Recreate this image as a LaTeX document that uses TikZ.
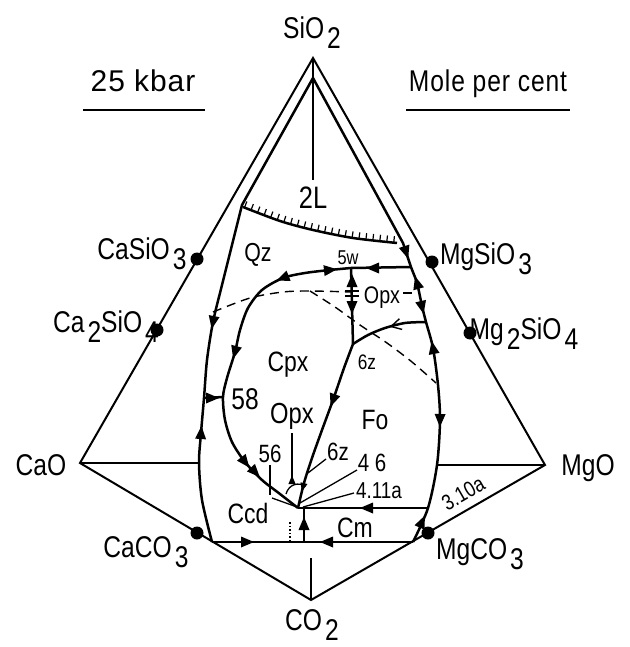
\documentclass[tikz,border=0pt]{standalone}
\usepackage{fontspec}
\newfontfamily\lf[FakeStretch=0.82]{Liberation Sans}
\newfontfamily\lfw{Liberation Sans}
\usetikzlibrary{decorations.markings}
\newcommand\sbs[1]{\kern0.1em\raisebox{-0.33em}{#1}}
\tikzset{
  lbl/.style={font=\lf\fontsize{#1}{#1}\selectfont, inner sep=0pt, text depth=0pt,
    /utils/exec={\pgfmathsetlengthmacro\capht{0.716*#1}}, text height=\capht},
  edgeln/.style={line width=2pt},
  bnd/.style={line width=2.5pt, line join=round},
  lead/.style={line width=1.3pt},
  dsh/.style={line width=1.4pt, dash pattern=on 9pt off 6pt},
  ah/.pic={\fill (7,0) -- (-6,5.5) -- (-6,-5.5) -- cycle;},
  sah/.pic={\fill (4.5,0) -- (-4,3.6) -- (-4,-3.6) -- cycle;},
  oah/.pic={\draw[line width=1.4pt] (-8,5.5) -- (2,0) -- (-8,-5.5);},
  cdot/.style={fill, circle, minimum size=13pt, inner sep=0pt},
}
\begin{document}
\begin{tikzpicture}[x=1pt,y=-1pt]
\useasboundingbox (0,0) rectangle (629,647);
% key points
\coordinate (Si) at (313,58);
\coordinate (CaO) at (80,463);
\coordinate (MgO) at (545,465);
\coordinate (CO) at (311,600);
\coordinate (In) at (313,78);
\coordinate (A) at (212,542);
\coordinate (B) at (413,542);
\coordinate (J5) at (351,268);
\coordinate (J6) at (353,344);
\coordinate (P) at (298,508);
\coordinate (R1) at (411,267);
\coordinate (R2) at (426,322);
\coordinate (R3) at (428,508);
\coordinate (L58) at (204,398);
\coordinate (C58) at (223,397);
\coordinate (Q) at (304,542);
\coordinate (HL) at (199,463);
\coordinate (HR) at (437,465);
\coordinate (Vt) at (313,180);
\coordinate (Vb) at (311,558);
% outer frame
\draw[edgeln, line join=miter] (CaO) -- (Si) -- (MgO) -- (CO) -- cycle;
\draw[edgeln] (Si) -- (Vt);
\draw[edgeln] (Vb) -- (CO);
\draw[edgeln] (CaO) -- (HL);
\draw[edgeln] (MgO) -- (HR);
% compound dots
\node[cdot] (dCaSiO3) at (197,259) {};
\node[cdot] (dCa2SiO4) at (157,330) {};
\node[cdot] (dMgSiO3) at (432,262) {};
\node[cdot] (dMg2SiO4) at (470,333) {};
\node[cdot] (dCaCO3) at (197,533) {};
\node[cdot] (dMgCO3) at (428,533) {};
% inner boundaries
\draw[bnd] (In) -- plot[smooth] coordinates {(242,205) (232,245) (222,285) (213,322) (207,360) (L58) (201,433) (HL) (202,500) (A)};
\draw[bnd] (In) -- plot[smooth] coordinates {(403,243) (R1) (417,283) (422,306) (R2) (433,348) (438,385) (440,420) (HR) (R3) (B)};
% two-liquid boundary with ticks
\draw[bnd, postaction={decorate}, decoration={markings, mark=between positions 0.01 and 1 step 7pt with {\draw[line width=1.2pt] (0,0) -- (0,-6.5);}}]
  plot[smooth] coordinates {(243,207) (280,221) (313,230) (353,238) (397,243)};
% field boundaries
\draw[bnd] (J5) -- (R1);
\draw[bnd] plot[smooth] coordinates {(J5) (330,270) (305,273) (283,278) (262,290) (248,308) (240,330) (235,352) (227,378) (C58) (225,420) (232,442) (245,462) (262,480) (280,494) (P)};
\draw[bnd] (L58) -- (C58);
\draw[bnd] (J5) -- (J6);
\draw[bnd] plot[smooth] coordinates {(R2) (405,323) (385,328) (368,335) (J6)};
\draw[bnd] plot[smooth] coordinates {(J6) (344,368) (333,400) (322,430) (312,458) (304,483) (P)};
\draw[bnd] (R3) -- (P);
\draw[bnd] (A) -- (B);
\draw[bnd] (Q) -- (304,508);
% dashed lines
\draw[dsh] plot[smooth] coordinates {(213,312) (250,298) (283,292) (310,291) (352,292)};
\draw[dsh] (403,293) -- (419,293);
\draw[dsh] plot[smooth] coordinates {(310,291) (335,307) (360,325) (387,343) (412,362) (436,383)};
% thermal maximum bars
\draw[lead] (345,291) -- (359,291) (345,296) -- (359,296);
% small details near P
\draw[lead] (286,494) .. controls (289,484) and (298,482) .. (306,486);
\draw[line width=1.6pt, dotted] (290,522) -- (290,541);
% leaders
\draw[lead] (292,433) -- (292,478);
\draw[lead] (270,465) -- (270,495);
\draw[lead] (272,498) -- (297,507);
\draw[lead] (326,459) -- (308,473);
\draw[lead] (357,470) -- (300,503);
\draw[lead] (354,493) -- (303,507);
% arrowheads
\pic[rotate=-101] at (213,322) {ah};
\pic[rotate=86] at (201,433) {ah};
\pic[rotate=0] at (212,398) {ah};
\pic[rotate=6] at (330,270) {ah};
\pic[rotate=202] at (283,278) {ah};
\pic[rotate=255] at (235,352) {ah};
\pic[rotate=-52] at (245,462) {ah};
\pic[rotate=-47] at (255,472) {ah};
\pic[rotate=90] at (352,281) {ah};
\pic[rotate=-90] at (352,307) {ah};
\pic[rotate=194] at (393,326) {oah};
\pic[rotate=250] at (333,400) {ah};
\pic[rotate=256] at (303,487) {sah};
\pic[rotate=90] at (292,480) {sah};
\pic[rotate=180] at (367,508) {ah};
\pic[rotate=180] at (373,268) {ah};
\pic[rotate=-72] at (406,252) {ah};
\pic[rotate=106] at (417,283) {ah};
\pic[rotate=-77] at (422,307) {ah};
\pic[rotate=101] at (433,348) {ah};
\pic[rotate=-91] at (440,420) {ah};
\pic[rotate=66] at (422,522) {ah};
\pic[rotate=0] at (247,542) {ah};
\pic[rotate=180] at (327,542) {ah};
\pic[rotate=90] at (304,524) {ah};
% labels
\node[lbl=30] (nSi) at (312,28) {SiO\sbs{2}};
\node[lbl=30] (nCO2) at (312,620) {CO\sbs{2}};
\node[lbl=30] (nCaO) at (41,465) {CaO};
\node[lbl=30] (nMgO) at (588,465) {MgO};
\node[lbl=30] (nCaSiO3) at (142,249) {CaSiO\sbs{3}};
\node[lbl=30] (nCa2SiO4) at (106,322) {Ca\sbs{2}SiO\sbs{4}};
\node[lbl=30] (nMgSiO3) at (486,254) {MgSiO\sbs{3}};
\node[lbl=30] (nMg2SiO4) at (524,329) {Mg\sbs{2}SiO\sbs{4}};
\node[lbl=30] (nCaCO3) at (146,547) {CaCO\sbs{3}};
\node[lbl=30] (nMgCO3) at (480,549) {MgCO\sbs{3}};
\node[lbl=30] (nP) at (143,81) {\lfw\addfontfeature{LetterSpace=3}25 kbar};
\node[lbl=30] (nM) at (488,81) {\addfontfeature{LetterSpace=3}Mole per cent};
\draw[edgeln] (83,110) -- (205,110);
\draw[edgeln] (406,110) -- (570,110);
\node[lbl=31] (n2L) at (313,197) {2L};
\node[lbl=26] (nQz) at (258,252) {Qz};
\node[lbl=20] (n5w) at (348,257) {5w};
\node[lbl=24] (nOpx1) at (382,295) {Opx};
\node[lbl=28] (nCpx) at (288,361) {Cpx};
\node[lbl=21] (n6z1) at (367,362) {6z};
\node[lbl=30] (n58) at (245,399) {58};
\node[lbl=29] (nOpx2) at (292,413) {Opx};
\node[lbl=28] (nFo) at (375,419) {Fo};
\node[lbl=25] (n56) at (270,454) {56};
\node[lbl=25] (n6z2) at (338,452) {6z};
\node[lbl=25] (n46) at (372,463) {4 6};
\node[lbl=23] (n411) at (379,490) {4.11a};
\node[lbl=28] (nCcd) at (248,513) {Ccd};
\node[lbl=28] (nCm) at (355,527) {Cm};
\node[lbl=22, rotate=30] (n310) at (463,493) {3.10a};
\end{tikzpicture}
\end{document}
